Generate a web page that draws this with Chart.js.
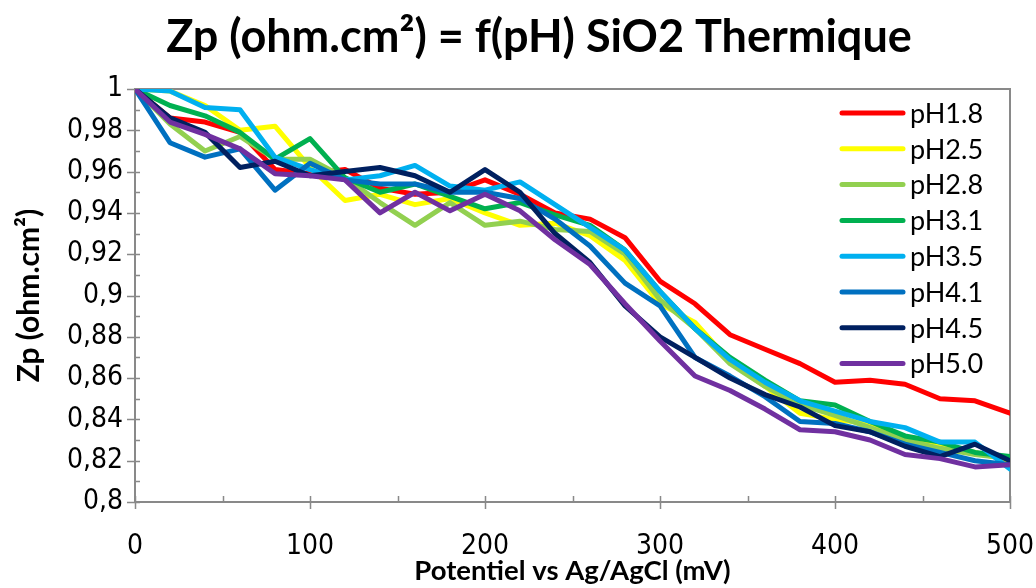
<!DOCTYPE html>
<html>
<head>
<meta charset="utf-8">
<title>Zp = f(pH) SiO2 Thermique</title>
<script src="https://cdn.jsdelivr.net/npm/chart.js@4.4.1/dist/chart.umd.min.js"></script>
<style>
  html, body { margin: 0; padding: 0; background: #fff; }
  #wrap { width: 1036px; height: 588px; }
</style>
</head>
<body>
<div id="wrap"><canvas id="zpChart" width="1036" height="588"></canvas></div>
<script>
// potentiel (mV) vs Ag/AgCl
var potentials = [0, 20, 40, 60, 80, 100, 120, 140, 160, 180, 200, 220, 240, 260, 280, 300, 320, 340, 360, 380, 400, 420, 440, 460, 480, 500];

// Zp normalised, one array per pH
var pH18 = [1.000, 0.986, 0.984, 0.979, 0.961, 0.959, 0.961, 0.952, 0.949, 0.950, 0.956, 0.949, 0.940, 0.937, 0.928, 0.907, 0.896, 0.881, 0.874, 0.867, 0.858, 0.859, 0.857, 0.850, 0.849, 0.843];
var pH25 = [1.000, 0.999, 0.992, 0.980, 0.982, 0.962, 0.946, 0.949, 0.944, 0.947, 0.940, 0.934, 0.935, 0.929, 0.917, 0.896, 0.887, 0.868, 0.856, 0.843, 0.840, 0.838, 0.831, 0.827, 0.824, 0.820];
var pH28 = [1.000, 0.983, 0.970, 0.977, 0.966, 0.966, 0.957, 0.945, 0.934, 0.945, 0.934, 0.936, 0.932, 0.931, 0.920, 0.898, 0.884, 0.867, 0.856, 0.847, 0.842, 0.836, 0.830, 0.826, 0.823, 0.821];
var pH31 = [1.000, 0.992, 0.987, 0.979, 0.966, 0.976, 0.957, 0.950, 0.954, 0.948, 0.942, 0.945, 0.939, 0.934, 0.922, 0.902, 0.884, 0.870, 0.859, 0.849, 0.847, 0.839, 0.832, 0.829, 0.824, 0.822];
var pH35 = [1.000, 0.999, 0.991, 0.990, 0.967, 0.961, 0.956, 0.958, 0.963, 0.953, 0.951, 0.955, 0.944, 0.933, 0.922, 0.902, 0.884, 0.869, 0.858, 0.849, 0.844, 0.839, 0.836, 0.829, 0.829, 0.816];
var pH41 = [1.000, 0.974, 0.967, 0.971, 0.951, 0.964, 0.956, 0.954, 0.954, 0.950, 0.950, 0.947, 0.937, 0.924, 0.906, 0.895, 0.870, 0.861, 0.851, 0.839, 0.838, 0.834, 0.828, 0.824, 0.820, 0.818];
var pH45 = [1.000, 0.986, 0.979, 0.962, 0.965, 0.958, 0.960, 0.962, 0.958, 0.950, 0.961, 0.950, 0.930, 0.916, 0.895, 0.880, 0.870, 0.860, 0.852, 0.846, 0.837, 0.834, 0.827, 0.822, 0.828, 0.820];
var pH50 = [1.000, 0.984, 0.978, 0.971, 0.959, 0.958, 0.956, 0.940, 0.950, 0.941, 0.949, 0.941, 0.927, 0.915, 0.896, 0.878, 0.861, 0.854, 0.845, 0.835, 0.834, 0.830, 0.823, 0.821, 0.817, 0.818];

var seriesLabels = ['pH1.8', 'pH2.5', 'pH2.8', 'pH3.1', 'pH3.5', 'pH4.1', 'pH4.5', 'pH5.0'];
var seriesValues = [pH18, pH25, pH28, pH31, pH35, pH41, pH45, pH50];
var seriesColors = ['#FF0000', '#FFFF00', '#92D050', '#00B050', '#00B0F0', '#0070C0', '#002060', '#7030A0'];

var yTicks = [0.8, 0.82, 0.84, 0.86, 0.88, 0.9, 0.92, 0.94, 0.96, 0.98, 1];
var xTicks = [0, 100, 200, 300, 400, 500];

var chartTitle = 'Zp (ohm.cm²) = f(pH) SiO2 Thermique';

var NARROW = '"Liberation Sans Narrow", "DejaVu Sans Condensed", sans-serif';
var SANS = 'Lato, "Open Sans", sans-serif';
var AXIS_GRAY = '#898989';

var datasets = seriesLabels.map(function (lbl, i) {
    return {
        label: lbl,
        data: seriesValues[i].map(function (v, j) { return {x: potentials[j], y: v}; }),
        borderColor: seriesColors[i],
        backgroundColor: seriesColors[i],
        borderWidth: 5,
        pointRadius: 0,
        tension: 0,
        borderJoinStyle: 'round',
        borderCapStyle: 'round',
        order: seriesLabels.length - i   // Excel draws the last series on top
    };
});

// plot frame, tick marks (excel style), title and the legend inside the plot
var excelFrame = {
    id: 'excelFrame',
    beforeDatasetsDraw: function (chart) {
        var ctx = chart.ctx, a = chart.chartArea;
        var xs = chart.scales.x, ys = chart.scales.y;
        ctx.save();
        ctx.strokeStyle = AXIS_GRAY;
        ctx.lineWidth = 2;
        ctx.strokeRect(a.left, a.top, a.right - a.left, a.bottom - a.top);
        ctx.lineWidth = 1.5;
        ctx.beginPath();
        for (var v = 80; v <= 100; v++) {
            var py = Math.round(ys.getPixelForValue(v / 100)) + 0.5;
            if (v % 2 === 0) { ctx.moveTo(a.left - 8, py); ctx.lineTo(a.left + 5, py); }
            else { ctx.moveTo(a.left, py); ctx.lineTo(a.left + 5, py); }
        }
        for (var m = 0; m <= 500; m += 50) {
            var px = Math.round(xs.getPixelForValue(m)) + 0.5;
            if (m % 100 === 0) { ctx.moveTo(px, a.bottom - 6); ctx.lineTo(px, a.bottom + 7); }
            else { ctx.moveTo(px, a.bottom - 6); ctx.lineTo(px, a.bottom); }
        }
        ctx.stroke();
        ctx.restore();
    },
    afterDraw: function (chart) {
        var ctx = chart.ctx, a = chart.chartArea;
        ctx.save();
        // title, centred on the whole excel chart object
        ctx.font = 'bold 45px ' + SANS;
        ctx.fillStyle = '#000';
        ctx.textAlign = 'center';
        ctx.textBaseline = 'middle';
        ctx.fillText(chartTitle, 539, 37);

        ctx.textAlign = 'left';
        ctx.font = '27px ' + SANS;
        ctx.lineCap = 'round';
        ctx.lineWidth = 5;
        chart.data.datasets.forEach(function (ds, i) {
            var y = a.top + 24 + i * 35.8;
            ctx.strokeStyle = ds.borderColor;
            ctx.beginPath();
            ctx.moveTo(a.right - 168, y);
            ctx.lineTo(a.right - 107, y);
            ctx.stroke();
            ctx.fillText(ds.label, a.right - 100, y + 1);
        });
        ctx.restore();
    }
};

new Chart(document.getElementById('zpChart'), {
    type: 'line',
    data: { datasets: datasets },
    plugins: [excelFrame],
    options: {
        responsive: false,
        animation: false,
        devicePixelRatio: 1,
        layout: { padding: { left: 0, right: 26, top: 89, bottom: 0 } },
        plugins: {
            legend: { display: false },
            tooltip: { enabled: false },
            title: { display: false }
        },
        scales: {
            x: {
                type: 'linear',
                min: 0,
                max: 500,
                afterFit: function (s) { s.height = 86; s.paddingLeft = 0; s.paddingRight = 0; },
                afterBuildTicks: function (s) { s.ticks = xTicks.map(function (v) { return {value: v}; }); },
                grid: { display: false, drawTicks: false },
                border: { display: false },
                ticks: {
                    color: '#000',
                    padding: 28,
                    maxRotation: 0,
                    font: { family: NARROW, size: 28 }
                },
                title: {
                    display: true,
                    text: 'Potentiel vs Ag/AgCl (mV)',
                    color: '#000',
                    font: { family: SANS, size: 27.5, weight: 'bold', lineHeight: 1.2 },
                    padding: { top: 0, bottom: 0 }
                }
            },
            y: {
                type: 'linear',
                min: 0.8,
                max: 1,
                afterFit: function (s) { s.width = 135; s.paddingTop = 0; s.paddingBottom = 0; },
                afterBuildTicks: function (s) { s.ticks = yTicks.map(function (v) { return {value: v}; }); },
                grid: { display: false, drawTicks: false },
                border: { display: false },
                ticks: {
                    color: '#000',
                    padding: 12,
                    font: { family: NARROW, size: 28 },
                    callback: function (v) { return String(Math.round(v * 100) / 100).replace('.', ','); }
                },
                title: {
                    display: true,
                    text: 'Zp (ohm.cm²)',
                    color: '#000',
                    font: { family: SANS, size: 30, weight: 'bold', lineHeight: 1.2 },
                    padding: { top: 11, bottom: 0 }
                }
            }
        }
    }
});
</script>
</body>
</html>
